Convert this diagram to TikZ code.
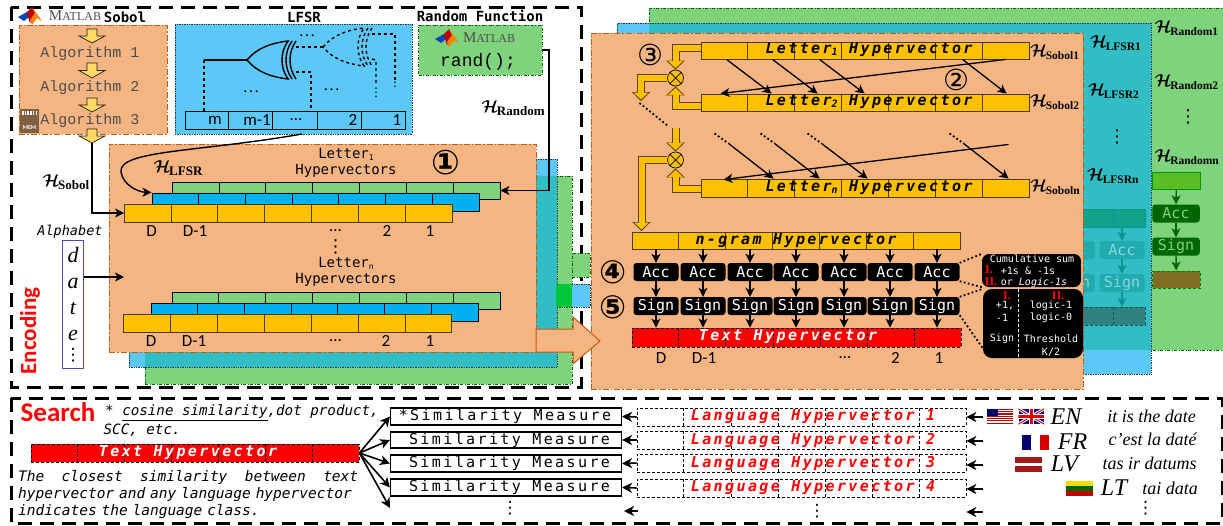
\documentclass[tikz,border=0pt]{standalone}
\usepackage{amsmath,amssymb}
\usepackage{xcolor}
\usepackage{fontspec}
\setmainfont{Liberation Serif}
\setsansfont{Carlito}
\setmonofont{DejaVu Sans Mono}
\newfontfamily\couriermono{Liberation Mono}
\newfontfamily\spacedmono[LetterSpace=16]{DejaVu Sans Mono}
\newfontfamily\circfont{DejaVu Sans}
\usepackage{tikz}
\usetikzlibrary{arrows.meta,positioning,calc,fit}
\definecolor{hdorange}{HTML}{F4B583}
\definecolor{hdrust}{HTML}{C55A11}
\definecolor{hdblue}{HTML}{5BC8F7}
\definecolor{hdgreen}{HTML}{7FD37C}
\definecolor{hdteal}{HTML}{31BDC4}
\definecolor{hdyellow}{HTML}{FFC000}
\definecolor{hdpale}{HTML}{FFD966}
\definecolor{hdcyan}{HTML}{00B0F0}
\definecolor{hdnavy}{HTML}{1F3864}
\definecolor{hdbrown}{HTML}{7F6040}
\newcommand{\fsz}[1]{\fontsize{#1}{#1}\selectfont}
\newcommand{\lowidx}[1]{\raisebox{-2pt}{\fsz{10}#1}}
\newcommand{\hsub}[2][11.5]{$\boldsymbol{\mathcal{H}}$\kern-1.5pt\raisebox{-3pt}{\fsz{#1}\rmfamily\bfseries #2}}
\newcommand{\vgap}{{\circfont ⋮}}
\newcommand{\boxat}[4]{\node[#1, fit={(#3)(#4)}, inner sep=0pt] (#2) {};}
\newcommand{\hvrow}[5][7]{\boxat{#2}{#3}{#4}{#5}
  \pgfmathtruncatemacro\lastcut{#1-1}
  \foreach \cutk in {1,...,\lastcut}
    \draw[#2,fill=none] ($(#3.north west)!\cutk/#1!(#3.north east)$) -- ($(#3.south west)!\cutk/#1!(#3.south east)$);}
\newcommand{\blockflow}[1]{\draw[yflowout] #1; \draw[yflowin] #1;}
\newcommand{\sobolarrow}[4]{\draw[tallarrow] (#2-5,#3) -- (#2+5,#3) -- (#2+5,#3/2+#4/2) -- (#2+13,#3/2+#4/2) -- (#2,#4)
  -- (#2-13,#3/2+#4/2) -- (#2-5,#3/2+#4/2) -- cycle; \coordinate (#1) at (#2,#4);}
\tikzset{
  framedash/.style={draw=black, line width=3pt, dash pattern=on 14pt off 8pt},
  panelorange/.style={draw=hdrust, fill=hdorange, line width=0.9pt, dash pattern=on 6pt off 2pt on 1.5pt off 2pt},
  panelblue/.style={draw=hdnavy, fill=hdblue, line width=0.7pt, densely dotted},
  panelgreen/.style={draw=green!40!black, fill=hdgreen, line width=0.6pt, dash pattern=on 3pt off 1.5pt on 1pt off 1.5pt},
  paneledge/.style={draw=hdnavy, line width=0.7pt, densely dotted},
  plainfill/.style={fill=#1},
  rowgreen/.style={draw=black, fill=hdgreen, line width=0.9pt},
  rowcyan/.style={draw=black, fill=hdcyan, line width=0.9pt},
  rowyellow/.style={draw=black!70!hdyellow, fill=hdyellow, line width=0.9pt},
  rowreg/.style={draw=black, line width=1pt},
  rowred/.style={draw=black, fill=red, line width=0.8pt, densely dashed},
  rowlang/.style={draw=black, fill=white, line width=0.6pt, densely dashed},
  rowfade/.style={draw=teal!70!hdteal, fill=teal!60!hdteal!90!green, line width=0.7pt},
  rowfadeend/.style={draw=teal!70!black, fill=teal!60!gray, line width=0.7pt, densely dashed},
  simbox/.style={draw=black, fill=white, line width=1.1pt},
  hvtext/.style={font=\fsz{15}\spacedmono\bfseries\itshape, inner sep=0pt},
  simtext/.style={font=\fsz{15}\spacedmono, inner sep=0pt},
  acc/.style={rounded corners=3pt, fill=black, text=white, font=\fsz{15}\ttfamily, minimum width=45pt, minimum height=18pt, inner sep=0pt},
  accteal/.style={acc, fill=hdteal!70!teal, text=hdteal!60!white},
  accgreen/.style={acc, fill=green!40!black, text=hdgreen},
  chalgo/.style={font=\fsz{15}\couriermono, text=black!70, inner sep=0pt},
  chtitle/.style={font=\fsz{14}\ttfamily\bfseries, inner sep=0pt},
  chcap/.style={font=\fsz{14}\ttfamily, inner sep=0pt, align=center},
  chnum/.style={font=\fsz{17}\sffamily, inner sep=0pt},
  chdots/.style={font=\fsz{17}, inner sep=0pt},
  stepnum/.style={font=\fsz{#1}\circfont, inner sep=0pt},
  stepbold/.style={font=\fsz{#1}\circfont\bfseries, inner sep=0pt},
  hlbl/.style={font=\fsz{19}, inner sep=0pt},
  matword/.style={font=\rmfamily, text=black!70, inner sep=0pt},
  redhead/.style={font=\fsz{#1}\sffamily\bfseries, text=red, inner sep=0pt},
  notetext/.style={font=\fontsize{14.5}{17}\selectfont\ttfamily\itshape, inner sep=0pt, anchor=north west, align=left},
  calltext/.style={font=\fsz{10}\ttfamily, text=white, inner sep=0pt},
  callred/.style={font=\fsz{12}\rmfamily\bfseries, text=red, inner sep=0pt},
  callbox/.style={fill=black, rounded corners=7pt},
  langtext/.style={font=\fsz{24}\rmfamily\itshape, inner sep=0pt},
  saytext/.style={font=\fsz{18}\rmfamily\itshape, inner sep=0pt},
  flagbox/.style={fill=#1},
  flow/.style={-{Stealth[length=9pt,width=9pt,inset=2.5pt]}, line width=1.3pt},
  bigflow/.style={-{Stealth[length=10pt,width=10pt,inset=3pt]}, line width=1.6pt},
  tealflow/.style={flow, draw=teal!70!hdteal},
  greenflow/.style={flow, draw=green!40!black},
  wire/.style={line width=1.4pt},
  wireto/.style={line width=1.4pt, -{Stealth[length=9pt,width=9pt,inset=2.5pt]}},
  dotline/.style={line width=1.8pt, dash pattern=on 1.8pt off 2.4pt},
  yflowout/.style={draw=black!65!hdyellow, line width=8pt, -{Triangle[length=9pt,width=18pt]}},
  yflowin/.style={draw=hdyellow, line width=6pt, shorten >=1.5pt, -{Triangle[length=7pt,width=14.5pt]}},
  tallarrow/.style={draw=black!70!hdbrown, fill=hdpale, line width=0.7pt},
  bigarrow/.style={draw=hdrust, fill=hdorange, line width=1pt},
  xorgate/.pic={
    \coordinate (-tip) at (0,0);
    \coordinate (-inup) at (49,-13);
    \coordinate (-indown) at (49,12);
    \draw[line width=1.4pt] (0,0) .. controls (10,-12) and (24,-17) .. (41,-19)
      .. controls (33,-8) and (33,8) .. (41,19) .. controls (24,17) and (10,12) .. (0,0);
    \draw[line width=1.4pt] (45,-19) .. controls (37,-8) and (37,8) .. (45,19);
    \draw[line width=1.4pt] (49,-19) .. controls (41,-8) and (41,8) .. (49,19);
  },
  matlablogo/.pic={
    \fill[blue!45!teal] (0,10) -- (9,5) -- (12,9) -- (6,14) -- cycle;
    \fill[red!75!black] (9,5) -- (14,0) -- (17,6) -- (12,16) -- (10,10) -- cycle;
    \fill[orange] (14,0) -- (24,14) -- (19,11) -- (14,18) -- (12,13) -- (17,6) -- cycle;
  },
}

\begin{document}
\begin{tikzpicture}[x=1pt,y=-1pt]
\useasboundingbox (0,0) rectangle (1223,525);

\draw[framedash] (11,7) rectangle (581,387);
\draw[framedash] (11,398) rectangle (1222,523);

\boxat{panelgreen}{backgreenL}{145,176}{572,384}
\boxat{panelblue}{backblueL}{129,159}{557,367}
\boxat{plainfill=hdteal}{backtealL}{145,176}{557,367}
\boxat{paneledge}{backedgeL}{129,159}{557,367}
\boxat{panelgreen}{stripgreen}{572,253}{590,277}
\boxat{panelblue}{stripblue}{557,284}{590,307}
\boxat{plainfill=green!55!teal}{stripteal}{556,284}{572,307}

\boxat{panelgreen}{backgreenR}{649,8}{1225,350}
\boxat{panelblue}{backblueR}{617,23}{1151,374}
\boxat{plainfill=hdteal}{backtealR}{649,23}{1151,350}
\boxat{paneledge}{backedgeR}{617,23}{1151,374}

\hvrow[3]{rowfade}{fadecell}{1050,209}{1145,227}
\node[accteal] (fadeacc0) at (1072,250) {Acc};
\node[accteal] (fadeacc) at (1122,250) {Acc};
\node[accteal] (fadesign0) at (1072,283) {Sign};
\node[accteal] (fadesign) at (1122,283) {Sign};
\hvrow[3]{rowfadeend}{fadeout}{1050,307}{1145,325}
\draw[tealflow] (fadeacc.north |- fadecell.south) -- (fadeacc.north);
\draw[tealflow] (fadeacc) -- (fadesign);
\draw[tealflow] (fadesign.south) -- (fadesign.south |- fadeout.north);

\boxat{draw=green!60!black, fill=green!50!hdgreen!60!olive, line width=0.7pt}{greencell}{1152.5,172}{1200,189}
\node[accgreen, minimum width=47.5pt] (greenacc) at (1176,213.5) {Acc};
\node[accgreen, minimum width=47.5pt] (greensign) at (1176,246.5) {Sign};
\boxat{draw=green!50!black, fill=hdbrown!60!olive, line width=0.8pt, densely dashed}{greenout}{1152.5,271}{1200,288}
\draw[greenflow] (greencell) -- (greenacc);
\draw[greenflow] (greenacc) -- (greensign);
\draw[greenflow] (greensign) -- (greenout);

\boxat{panelorange}{sobolpanel}{19,25}{167,134}
\boxat{panelblue}{lfsrpanel}{175,24}{412,134}
\boxat{panelgreen}{randpanel}{418.5,25}{542,75}
\boxat{panelorange}{letterpanel}{109,144}{536,352}
\boxat{panelorange}{mixpanel}{591,33}{1083,389}

\pic (logoA) at (18,7) {matlablogo};
\node[matword] (matA) at (75,16) {\fsz{15}M\fsz{12}ATLAB};
\node[chtitle] (sobolname) at (125,17) {Sobol};
\node[chtitle] (lfsrname) at (304,17) {LFSR};
\node[chtitle] (randname) at (480,16) {Random Function};

\sobolarrow{sobA}{92}{29}{43}
\node[chalgo] (algoA) at (90,54) {Algorithm 1};
\sobolarrow{sobB}{92}{63}{78}
\node[chalgo] (algoB) at (90,88) {Algorithm 2};
\sobolarrow{sobC}{92}{98}{112}
\node[chalgo] (algoC) at (90,121) {Algorithm 3};
\sobolarrow{sobD}{92}{129}{143}

\boxat{fill=hdbrown}{memchip}{20,109}{39,133}
\foreach \k in {0,...,5}
  \fill[white] (22+\k*2.7,111) rectangle ++(1.6,4);
\node[font=\fsz{6}\sffamily\bfseries, text=white, inner sep=0pt] (memtext) at (29.5,128) {MEM};

\hvrow[5]{rowreg}{regbar}{185,111}{405,129}
\node[chnum] (regA) at (215,120) {m};
\node[chnum] (regB) at (257,120) {m-1};
\node[chnum] (regC) at (296,120) {…};
\node[chnum] (regD) at (353,120) {2};
\node[chnum] (regE) at (397,120) {1};

\pic (gateA) at (247,60) {xorgate};
\pic[dashed] (gateB) at (323,47) {xorgate};
\coordinate (tapm) at (204,60);
\coordinate (tapk) at (311,72);
\coordinate (tapdownA) at (376,60);
\coordinate (tapdownB) at (395,34);
\draw[wire] (gateA-tip) -- (tapm);
\draw[wire,dashed] (tapm) -- (tapm |- regbar.north);
\draw[wire,dashed] (gateA-indown) -- (tapk) -- (tapk |- regbar.north);
\draw[wire,dashed] (gateA-inup) -- (gateB-tip);
\draw[wire,dashed] (gateB-indown) -- (tapdownA) -- ++(0,23);
\draw[wire,dashed] (gateB-inup) -- (tapdownB) -- ++(0,46);
\node[chdots] (lfsrdotA) at (307,36) {…};
\node[chdots] (lfsrdotB) at (251,92) {…};
\node[chdots] (lfsrdotC) at (331.5,90) {…};
\node[chdots, font=\fsz{12}] (lfsrdotD) at (376,93) {\vgap};
\node[chdots, font=\fsz{12}] (lfsrdotE) at (395,83) {\vgap};

\pic (logoB) at (435,29) {matlablogo};
\node[matword] (matB) at (489,38) {\fsz{15}M\fsz{12}ATLAB};
\node[font=\fsz{18}\couriermono, inner sep=0pt] (randcall) at (478,62) {rand();};

\hvrow{rowgreen}{stackAg}{172.5,182}{500,199}
\hvrow{rowcyan}{stackAb}{152,193}{479,211}
\hvrow{rowyellow}{stackAy}{124.5,204}{452,222}
\hvrow{rowgreen}{stackBg}{172,292}{500,309}
\hvrow{rowcyan}{stackBb}{151,303}{478,321}
\hvrow{rowyellow}{stackBy}{123.5,314}{451.5,332}

\node[chcap] (capA) at (346,163) {Letter\raisebox{-2pt}{\fsz{8}1}\\[2pt]Hypervectors};
\node[chcap] (capB) at (346,272) {Letter\raisebox{-2pt}{\fsz{8}n}\\[2pt]Hypervectors};
\node[stepbold=34] (stepA) at (446,163) {①};
\node[chnum] (dA1) at (151.5,231) {D};
\node[chnum] (dA2) at (195,231) {D-1};
\node[chnum] (dA3) at (335.5,231) {…};
\node[chnum] (dA4) at (387,231) {2};
\node[chnum] (dA5) at (430,231) {1};
\node[chdots, font=\fsz{18}] (dAgap) at (335.5,247) {\vgap};
\node[chnum] (dB1) at (151,341) {D};
\node[chnum] (dB2) at (194,341) {D-1};
\node[chnum] (dB3) at (335.5,341) {…};
\node[chnum] (dB4) at (386,341) {2};
\node[chnum] (dB5) at (430,341) {1};

\node[hlbl] (hsobol) at (66,182) {\hsub[13]{Sobol}};
\node[hlbl] (hlfsr) at (178,168) {\hsub[13]{LFSR}};
\node[hlbl] (hrandom) at (513,108) {\hsub[13]{Random}};

\coordinate (randbend) at (549,50);
\draw[wireto] (randpanel.east |- randbend) -- (randbend) |- (stackAg.east);
\draw[wireto] (sobD) |- (stackAy.west);
\coordinate (lfsrfoot) at (302,134);
\draw[wireto] (lfsrfoot) .. controls (200,152) and (118,150) .. (121,172) .. controls (123,185) and (138,192) .. (stackAb.north west);

\node[font=\fsz{13.5}\ttfamily\itshape, inner sep=0pt] (alphaname) at (70,232) {Alphabet};
\boxat{draw=blue!40!gray, fill=white, line width=0.9pt}{alphabox}{62.5,240}{83.5,368}
\node[font=\fsz{22}\rmfamily\itshape, inner sep=0pt] (alphaD) at (73,255) {d};
\node[font=\fsz{22}\rmfamily\itshape, inner sep=0pt] (alphaA) at (73,283) {a};
\node[font=\fsz{22}\rmfamily\itshape, inner sep=0pt] (alphaT) at (73,308) {t};
\node[font=\fsz{22}\rmfamily\itshape, inner sep=0pt] (alphaE) at (73,335) {e};
\node[chdots] (alphagap) at (73,355) {\vgap};
\coordinate (alphafoot) at (124,277);
\draw[flow] (alphafoot -| alphabox.east) -- (alphafoot);
\node[redhead=23, rotate=90] (encodename) at (30,331) {Encoding};
\draw[bigarrow] (536,329) -- (573,329) -- (573,317) -- (600,341) -- (573,364) -- (573,352) -- (536,352) -- cycle;

\hvrow{rowyellow}{letA}{701,42}{1029,59}
\hvrow{rowyellow}{letB}{701,94}{1029,111}
\hvrow{rowyellow}{letN}{701,179}{1029,197}
\node[hvtext] (letAtext) at (869,50) {Letter\lowidx{1} Hypervector};
\node[hvtext] (letBtext) at (869,102) {Letter\lowidx{2} Hypervector};
\node[hvtext] (letNtext) at (869,188) {Letter\lowidx{n} Hypervector};

\foreach \a/\b in {26/71,72/117,119/164,262/306}
  \draw[flow] ([xshift=\a pt]letA.south west) -- ([xshift=\b pt]letB.north west);
\draw[flow] ([xshift=305pt]letA.south west) -- ([xshift=20pt]letB.north west);
\foreach \a/\b/\c in {14/28/73,60/74/119,107/121/167,249/263/308}{
  \draw[dotline] ([xshift=\a pt,yshift=-22pt]letB.south west) -- ([xshift=\b pt,yshift=-32pt]letB.south west);
  \draw[flow] ([xshift=\b pt,yshift=-32pt]letB.south west) -- ([xshift=\c pt]letN.north west);
}
\draw[flow] ([xshift=308pt,yshift=-33pt]letB.south west) -- ([xshift=23pt,yshift=-1pt]letN.north west);

\node[circle, draw=black!75!hdbrown, fill=hdyellow, line width=0.8pt, minimum size=16pt, inner sep=0pt] (mulA) at (675.5,78) {};
\node[circle, draw=black!75!hdbrown, fill=hdyellow, line width=0.8pt, minimum size=16pt, inner sep=0pt] (mulB) at (675.5,160) {};
\foreach \m in {mulA,mulB}{
  \draw[line width=0.7pt] (\m.north west) -- (\m.south east);
  \draw[line width=0.7pt] (\m.north east) -- (\m.south west);
}
\coordinate (dropA) at (641,101);
\coordinate (dropB) at (641.5,231);
\coordinate (feedtop) at (675.5,128);
\blockflow{([yshift=3pt]letA.west) -| (mulA.north)}
\blockflow{([yshift=-3pt]letB.west) -| (mulA.south)}
\blockflow{(mulA.west) -| (dropA)}
\blockflow{(feedtop) -- (mulB.north)}
\blockflow{([yshift=-1pt]letN.west) -| (mulB.south)}
\blockflow{(mulB.west) -| (dropB)}
\coordinate (gapdotA) at (639.5,103);
\coordinate (gapdotB) at (668,126);
\draw[dotline] (gapdotA) -- (gapdotB);

\node[stepnum=29] (stepB) at (956,80) {②};
\node[stepnum=29] (stepC) at (650,55) {③};
\node[stepbold=32] (stepD) at (613,272) {④};
\node[stepbold=32] (stepE) at (613,307) {⑤};

\node[hlbl,anchor=west] (hsobA) at (1030,52) {\hsub{Sobol1}};
\node[hlbl,anchor=west] (hsobB) at (1030,102) {\hsub{Sobol2}};
\node[hlbl,anchor=west] (hsobN) at (1030,187) {\hsub{Soboln}};
\node[hlbl,anchor=west] (hlfsA) at (1090,43) {\hsub{LFSR1}};
\node[hlbl,anchor=west] (hlfsB) at (1088,91) {\hsub{LFSR2}};
\node[chdots, font=\fsz{18}] (hlfsgap) at (1117,137) {\vgap};
\node[hlbl,anchor=west] (hlfsN) at (1087,176) {\hsub{LFSRn}};
\node[hlbl,anchor=west] (hranA) at (1154.5,28) {\hsub{Random1}};
\node[hlbl,anchor=west] (hranB) at (1154.5,82) {\hsub{Random2}};
\node[chdots, font=\fsz{18}] (hrangap) at (1188,117) {\vgap};
\node[hlbl,anchor=west] (hranN) at (1154.5,157) {\hsub{Randomn}};

\hvrow{rowyellow}{ngram}{632,232}{960,249}
\node[hvtext] (ngramtext) at (796,240.5) {n-gram Hypervector};
\hvrow{rowred}{textvec}{632,328}{961,347}
\node[hvtext, text=white] (textvectext) at (788,337) {Text Hypervector};

\foreach \k/\x in {1/656,2/703,3/750,4/796,5/844,6/890,7/937}{
  \node[acc] (acc\k) at (\x,272) {Acc};
  \node[acc] (sign\k) at (\x,306) {Sign};
  \draw[flow] (acc\k.north |- ngram.south) -- (acc\k.north);
  \draw[flow] (acc\k) -- (sign\k);
  \draw[flow] (sign\k.south) -- (sign\k.south |- textvec.north);
}
\node[chnum] (dC1) at (661,358) {D};
\node[chnum] (dC2) at (704,358) {D-1};
\node[chnum] (dC3) at (845,358) {…};
\node[chnum] (dC4) at (895.5,358) {2};
\node[chnum] (dC5) at (939,358) {1};

\boxat{callbox}{noteacc}{982,254}{1081,287}
\boxat{callbox,rounded corners=9pt}{notesign}{983,289}{1083,358}
\draw[dotline] (acc7.north east) -- (noteacc.north west);
\draw[dotline] (acc7.south east) -- (noteacc.south west);
\draw[dotline] (sign7.north east) -- (notesign.north west);
\draw[dotline] (sign7.south east) -- ([yshift=10pt]notesign.south west);
\node[calltext] (noteA) at (1032,259) {Cumulative sum};
\node[callred] (noteB) at (989,270) {I.};
\node[calltext] (noteC) at (1028,270.5) {+1s \& -1s};
\node[callred] (noteD) at (991,282) {II.};
\node[calltext] (noteE) at (1034,282.5) {or \textit{Logic-1s}};
\coordinate (notecut) at (1018,320);
\draw[white, line width=0.8pt, densely dashed] (notecut |- notesign.north) -- (notecut |- notesign.south);
\node[callred] (noteF) at (1007,296) {I.};
\node[callred] (noteG) at (1058,296) {II.};
\node[calltext] (noteH) at (1005,306) {+1,};
\node[calltext] (noteI) at (1002,318) {-1};
\node[calltext] (noteJ) at (1051,306) {logic-1};
\node[calltext] (noteK) at (1051,318) {logic-0};
\node[calltext] (noteL) at (1002,339) {Sign};
\node[calltext] (noteM) at (1051,339) {Threshold};
\node[calltext] (noteN) at (1051,352) {K/2};

\node[redhead=27, anchor=west] (searchname) at (20.5,412) {Search};
\node[font=\fsz{14.2}\ttfamily\itshape, inner sep=0pt, anchor=west] (simnoteA) at (105,413) {* \underline{cosine similarity},dot product,};
\node[font=\fsz{14.2}\ttfamily\itshape, inner sep=0pt, anchor=west] (simnoteB) at (103.5,430) {SCC, etc.};
\hvrow{rowred}{queryvec}{31,444}{359,462}
\node[hvtext, text=white] (queryvectext) at (188,453) {Text Hypervector};
\node[notetext, text width=350pt] (classnote) at (18,470) {\makebox[340pt]{The\hfill closest\hfill similarity\hfill between\hfill text}\\hypervector and any language hypervector\\indicates the language class.};

\foreach \k/\y/\z/\u/\w in {1/408/425/408/426,2/432/448/431/449,3/455/472/454/472,4/479/496/479/497}{
  \boxat{simbox}{sim\k}{390.5,\y}{621.5,\z}
  \hvrow{rowlang}{lang\k}{637,\u}{966,\w}
}
\node[simtext] (simA) at (505,416.5) {*Similarity Measure};
\node[simtext] (simB) at (505,440.5) {\phantom{*}Similarity Measure};
\node[simtext] (simC) at (505,463.5) {\phantom{*}Similarity Measure};
\node[simtext] (simD) at (505,487.5) {\phantom{*}Similarity Measure};
\node[hvtext, text=red] (langA) at (813,417) {Language Hypervector 1};
\node[hvtext, text=red] (langB) at (813,440) {Language Hypervector 2};
\node[hvtext, text=red] (langC) at (813,463) {Language Hypervector 3};
\node[hvtext, text=red] (langD) at (813,488) {Language Hypervector 4};

\coordinate (simfree) at (390,508);
\coordinate (simrowfree) at (624,511);
\coordinate (langrowfree) at (638,511);
\coordinate (srcA) at (983,417);
\coordinate (srcB) at (983,441);
\coordinate (srcC) at (983,465);
\coordinate (srcD) at (983,489);
\coordinate (srcE) at (983,512);
\draw[bigflow] (queryvec.east) -- (sim1.west);
\draw[bigflow] (queryvec.east) -- (sim2.west);
\draw[bigflow] (queryvec.east) -- (sim3.west);
\draw[bigflow] (queryvec.east) -- (sim4.west);
\draw[bigflow] (queryvec.east) -- (simfree);
\foreach \k in {1,2,3,4}
  \draw[bigflow] (lang\k.west) -- (sim\k.east);
\draw[bigflow] (langrowfree) -- (simrowfree);
\draw[bigflow] (srcA) -- (srcA -| lang1.east);
\draw[bigflow] (srcB) -- (srcB -| lang2.east);
\draw[bigflow] (srcC) -- (srcC -| lang3.east);
\draw[bigflow] (srcD) -- (srcD -| lang4.east);
\draw[bigflow] (srcE) -- (srcE -| lang4.east);
\node[chdots] (simgap) at (510,508) {\vgap};
\node[chdots] (langgap) at (817,511) {\vgap};
\node[chdots] (saygap) at (1145.5,508) {\vgap};

\boxat{flagbox=white}{flagus}{987,409}{1013.5,424}
\foreach \k in {0,...,6}
  \fill[red!70!black] (flagus.north west) ++(0,{\k*2.3}) rectangle ++(26.5,1.15);
\fill[blue!40!black] (flagus.north west) rectangle ++(11,7);
\boxat{flagbox=blue!50!black}{flaguk}{1018.5,409}{1044,424}
\begin{scope}
  \clip (flaguk.north west) rectangle (flaguk.south east);
  \draw[white, line width=3pt] (flaguk.north west) -- (flaguk.south east);
  \draw[white, line width=3pt] (flaguk.north east) -- (flaguk.south west);
  \draw[red!85!black, line width=1pt] (flaguk.north west) -- (flaguk.south east);
  \draw[red!85!black, line width=1pt] (flaguk.north east) -- (flaguk.south west);
  \draw[white, line width=5pt] (flaguk.north) -- (flaguk.south);
  \draw[white, line width=5pt] (flaguk.west) -- (flaguk.east);
  \draw[red!85!black, line width=3pt] (flaguk.north) -- (flaguk.south);
  \draw[red!85!black, line width=3pt] (flaguk.west) -- (flaguk.east);
\end{scope}
\boxat{flagbox=blue!45!black}{flagfrA}{1021.5,435}{1031,450}
\boxat{flagbox=white}{flagfrB}{1031,435}{1040,450}
\boxat{flagbox=red!85!black}{flagfrC}{1040,435}{1049,450}
\boxat{flagbox=red!60!black!90!white}{flaglv}{1015,457}{1042,472}
\boxat{flagbox=white}{flaglvmid}{1015,463}{1042,466}
\boxat{flagbox=yellow!80!orange}{flagltA}{1066,481}{1093,486}
\boxat{flagbox=green!40!black}{flagltB}{1066,486}{1093,491}
\boxat{flagbox=red!75!black}{flagltC}{1066,491}{1093,496}

\node[langtext] (tagEN) at (1066,417) {EN};
\node[langtext] (tagFR) at (1072.5,442) {FR};
\node[langtext] (tagLV) at (1064.5,464) {LV};
\node[langtext] (tagLT) at (1114,488) {LT};
\node[saytext] (sayEN) at (1151.5,416) {it is the date};
\node[saytext] (sayFR) at (1152.5,439) {c'est la daté};
\node[saytext] (sayLV) at (1149.5,463) {tas ir datums};
\node[saytext] (sayLT) at (1170,488) {tai data};
\end{tikzpicture}
\end{document}
